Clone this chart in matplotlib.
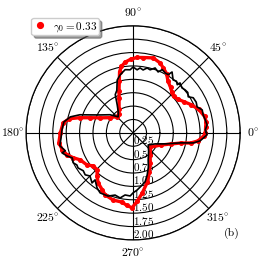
import numpy as np
import matplotlib
matplotlib.use('Agg')
import matplotlib.pyplot as plt

plt.rcParams['mathtext.fontset'] = 'cm'
plt.rcParams['font.family'] = 'cmr10'
plt.rcParams['axes.unicode_minus'] = False

# red dots (gamma_0 = 0.33), angle in degrees and radius
theta_red = [0.0, 4.9, 8.7, 12.9, 19.8, 26.2, 31.8, 36.5, 42.0, 46.4, 50.6, 56.3,
             60.5, 65.2, 69.0, 75.0, 82.4, 87.0, 91.6, 96.4, 100.0, 102.5, 105.0,
             108.5, 112.0, 121.0, 128.0, 135.0, 146.9, 155.6, 160.8, 164.2, 167.5,
             171.8, 180.0, 187.6, 193.5, 198.4, 202.6, 207.0, 214.8, 219.5, 225.8,
             230.0, 235.0, 241.5, 245.7, 253.4, 260.8, 265.0, 269.2, 273.4, 278.5,
             286.0, 292.3, 299.5, 307.7, 320.5, 336.0, 343.4, 348.0, 350.0, 352.9,
             357.5, 360.0]
r_red = [1.35, 1.36, 1.38, 1.37, 1.30, 1.20, 1.11, 1.05, 1.02, 1.05, 1.10, 1.17,
         1.27, 1.34, 1.40, 1.45, 1.42, 1.41, 1.38, 1.33, 1.26, 1.17, 1.00,
         0.83, 0.70, 0.51, 0.44, 0.43, 0.52, 0.68, 0.86, 1.04, 1.22,
         1.32, 1.36, 1.40, 1.36, 1.30, 1.21, 1.11, 1.05, 0.97, 0.96,
         1.05, 1.14, 1.21, 1.27, 1.31, 1.31, 1.36, 1.40, 1.28, 1.14,
         0.96, 0.80, 0.65, 0.52, 0.42, 0.56, 0.73, 0.91, 1.09, 1.22,
         1.32, 1.35]

# black line
theta_blk = [0.0, 2.4, 6.2, 10.2, 14.4, 18.4, 22.1, 26.0, 30.3, 33.2, 36.5, 39.6,
             42.6, 46.8, 47.5, 50.0, 53.0, 57.4, 58.9, 61.9, 65.3, 67.7, 71.3,
             74.9, 77.8, 81.0, 83.9, 86.4, 90.0, 92.7, 97.2, 102.6, 106.8, 111.0,
             115.0, 119.7, 126.0, 133.0, 142.0, 151.4, 157.3, 161.2, 165.7, 171.0,
             177.6, 184.0, 190.0, 194.8, 195.7, 199.2, 202.3, 206.6, 209.7, 212.5,
             217.2, 221.2, 225.0, 230.6, 231.0, 236.8, 241.2, 248.4, 253.8, 258.7,
             262.6, 267.3, 270.0, 274.0, 277.4, 283.8, 288.4, 294.0, 299.0, 310.0,
             321.3, 333.4, 341.6, 348.0, 350.5, 353.2, 358.5, 360.0]
r_blk = [1.37, 1.35, 1.39, 1.37, 1.35, 1.36, 1.29, 1.31, 1.30, 1.23, 1.27, 1.26,
         1.24, 1.28, 1.22, 1.26, 1.24, 1.35, 1.27, 1.27, 1.30, 1.23, 1.28,
         1.22, 1.24, 1.19, 1.22, 1.18, 1.23, 1.18, 1.19, 1.11, 1.03, 0.85,
         0.79, 0.60, 0.47, 0.41, 0.55, 0.70, 0.87, 1.05, 1.21, 1.31,
         1.33, 1.35, 1.39, 1.31, 1.38, 1.31, 1.23, 1.25, 1.21, 1.22,
         1.17, 1.19, 1.14, 1.21, 1.13, 1.23, 1.28, 1.27, 1.21, 1.24,
         1.17, 1.18, 1.12, 1.07, 1.02, 0.94, 0.83, 0.70, 0.58, 0.45,
         0.36, 0.46, 0.65, 0.90, 1.14, 1.26, 1.38, 1.37]

r_ticks = [0.25, 0.50, 0.75, 1.00, 1.25, 1.50, 1.75, 2.00]
theta_ticks = [0, 45, 90, 135, 180, 225, 270, 315]

fig = plt.figure(figsize=(2.66, 2.66), dpi=100)
ax = fig.add_axes([0.098, 0.098, 0.805, 0.805], projection='polar')

th_r = np.deg2rad(theta_red)
th_b = np.deg2rad(theta_blk)
ax.plot(th_r, r_red, '-', color='red', lw=2.4, zorder=3)
ax.plot(th_r, r_red, 'o', color='red', ms=2.6, zorder=3, label=r'$\gamma_0 = 0.33$')
ax.plot(th_b, r_blk, '-', color='black', lw=1.2, zorder=4)

ax.set_ylim(0, 2)
ax.set_rgrids(r_ticks, labels=['$%.2f$' % v for v in r_ticks], angle=270, fontsize=8)
ax.set_thetagrids(theta_ticks, labels=[r'$%d\!^\circ$' % t for t in theta_ticks], fontsize=8.5)
ax.tick_params(axis='x', pad=-1)
ax.grid(True, color='black', lw=0.8)
ax.spines['polar'].set_linewidth(0.9)
for lab in ax.get_yticklabels():
    lab.set_ha('left')
    lab.set_va('bottom')

fig.legend(loc='upper left', bbox_to_anchor=(0.11, 0.94), fontsize=8,
           fancybox=True, shadow=True, framealpha=1, handletextpad=0.5,
           borderpad=0.15, borderaxespad=0.2, markerscale=1.6, handlelength=1.3)

fig.text(0.872, 0.124, '(b)', fontsize=8.5, ha='center', va='center')

fig.savefig('out.png', dpi=100)
